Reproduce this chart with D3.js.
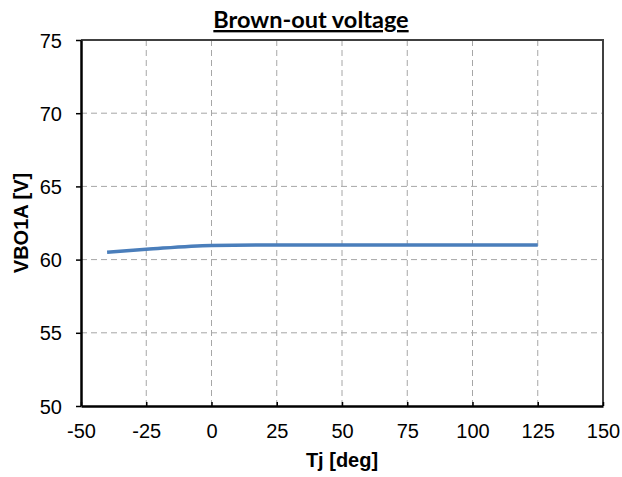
<!DOCTYPE html>
<html>
<head>
<meta charset="utf-8">
<script src="https://cdn.jsdelivr.net/npm/d3@7"></script>
<style>
  body { margin: 0; background: #fff; }
  svg { display: block; }
</style>
</head>
<body>
<svg id="chart" width="622" height="477"></svg>
<script>
// data
var temps = [-40, -25, 0, 25, 50, 75, 100, 125];
var vbo1a = [60.5, 60.7, 60.97, 61.0, 61.0, 61.0, 61.0, 61.0];
var xTicks = [-50, -25, 0, 25, 50, 75, 100, 125, 150];
var yTicks = [50, 55, 60, 65, 70, 75];

(function () {
    var svg = d3.select("#chart");
    var pLeft = 81, pRight = 603, pTop = 40, pBottom = 406;

    var x = d3.scaleLinear().domain([-50, 150]).range([pLeft, pRight]);
    var y = d3.scaleLinear().domain([50, 75]).range([pBottom, pTop]);

    // grid
    svg.append("g").selectAll("line").data(xTicks.slice(1, -1)).enter().append("line")
        .attr("x1", d => x(d)).attr("x2", d => x(d))
        .attr("y1", pTop).attr("y2", pBottom)
        .attr("stroke", "#a6a6a6").attr("stroke-width", 1).attr("stroke-dasharray", "6,4");
    svg.append("g").selectAll("line").data(yTicks.slice(1, -1)).enter().append("line")
        .attr("x1", pLeft).attr("x2", pRight)
        .attr("y1", d => y(d)).attr("y2", d => y(d))
        .attr("stroke", "#a6a6a6").attr("stroke-width", 1).attr("stroke-dasharray", "6,4");

    // top and right border
    svg.append("path")
        .attr("d", "M" + pLeft + "," + pTop + "H" + pRight + "V" + pBottom)
        .attr("fill", "none").attr("stroke", "#404040").attr("stroke-width", 2);

    // axes
    var fmt = d => String(d);
    var xAxis = d3.axisBottom(x).tickValues(xTicks).tickFormat(fmt)
        .tickSizeInner(-4).tickSizeOuter(0).tickPadding(18);
    var gx = svg.append("g").attr("transform", "translate(0," + pBottom + ")").call(xAxis);
    var yAxis = d3.axisLeft(y).tickValues(yTicks).tickFormat(fmt)
        .tickSizeInner(5).tickSizeOuter(0).tickPadding(14);
    var gy = svg.append("g").attr("transform", "translate(" + pLeft + ",0)").call(yAxis);

    [gx, gy].forEach(function (g) {
        g.select(".domain").attr("stroke", "#000").attr("stroke-width", 2.5);
        g.selectAll(".tick line").attr("stroke", "#000").attr("stroke-width", 1.5);
        g.selectAll(".tick text")
            .attr("font-family", "Liberation Sans, Arial, sans-serif")
            .attr("font-size", 20).attr("fill", "#000");
    });
    gx.selectAll(".tick text").attr("dy", "0.71em");
    gy.selectAll(".tick text").attr("dy", "0.35em");

    // series
    var line = d3.line()
        .x((d, i) => x(temps[i]))
        .y(d => y(d))
        .curve(d3.curveMonotoneX);
    svg.append("path").datum(vbo1a)
        .attr("d", line)
        .attr("fill", "none").attr("stroke", "#4a7ebb").attr("stroke-width", 3.5);

    // title and axis labels
    svg.append("text")
        .attr("x", 311).attr("y", 28)
        .attr("text-anchor", "middle")
        .attr("font-family", "Lato, sans-serif").attr("font-weight", "bold").attr("font-size", 23.5)
        .attr("text-decoration", "underline")
        .text("Brown-out voltage");

    svg.append("text")
        .attr("x", (pLeft + pRight) / 2).attr("y", 467)
        .attr("text-anchor", "middle")
        .attr("font-family", "Liberation Sans, Arial, sans-serif").attr("font-weight", "bold").attr("font-size", 20)
        .text("Tj [deg]");

    svg.append("text")
        .attr("transform", "translate(28," + ((pTop + pBottom) / 2) + ") rotate(-90)")
        .attr("text-anchor", "middle")
        .attr("font-family", "Liberation Sans, Arial, sans-serif").attr("font-weight", "bold").attr("font-size", 20)
        .text("VBO1A [V]");
})();
</script>
</body>
</html>
